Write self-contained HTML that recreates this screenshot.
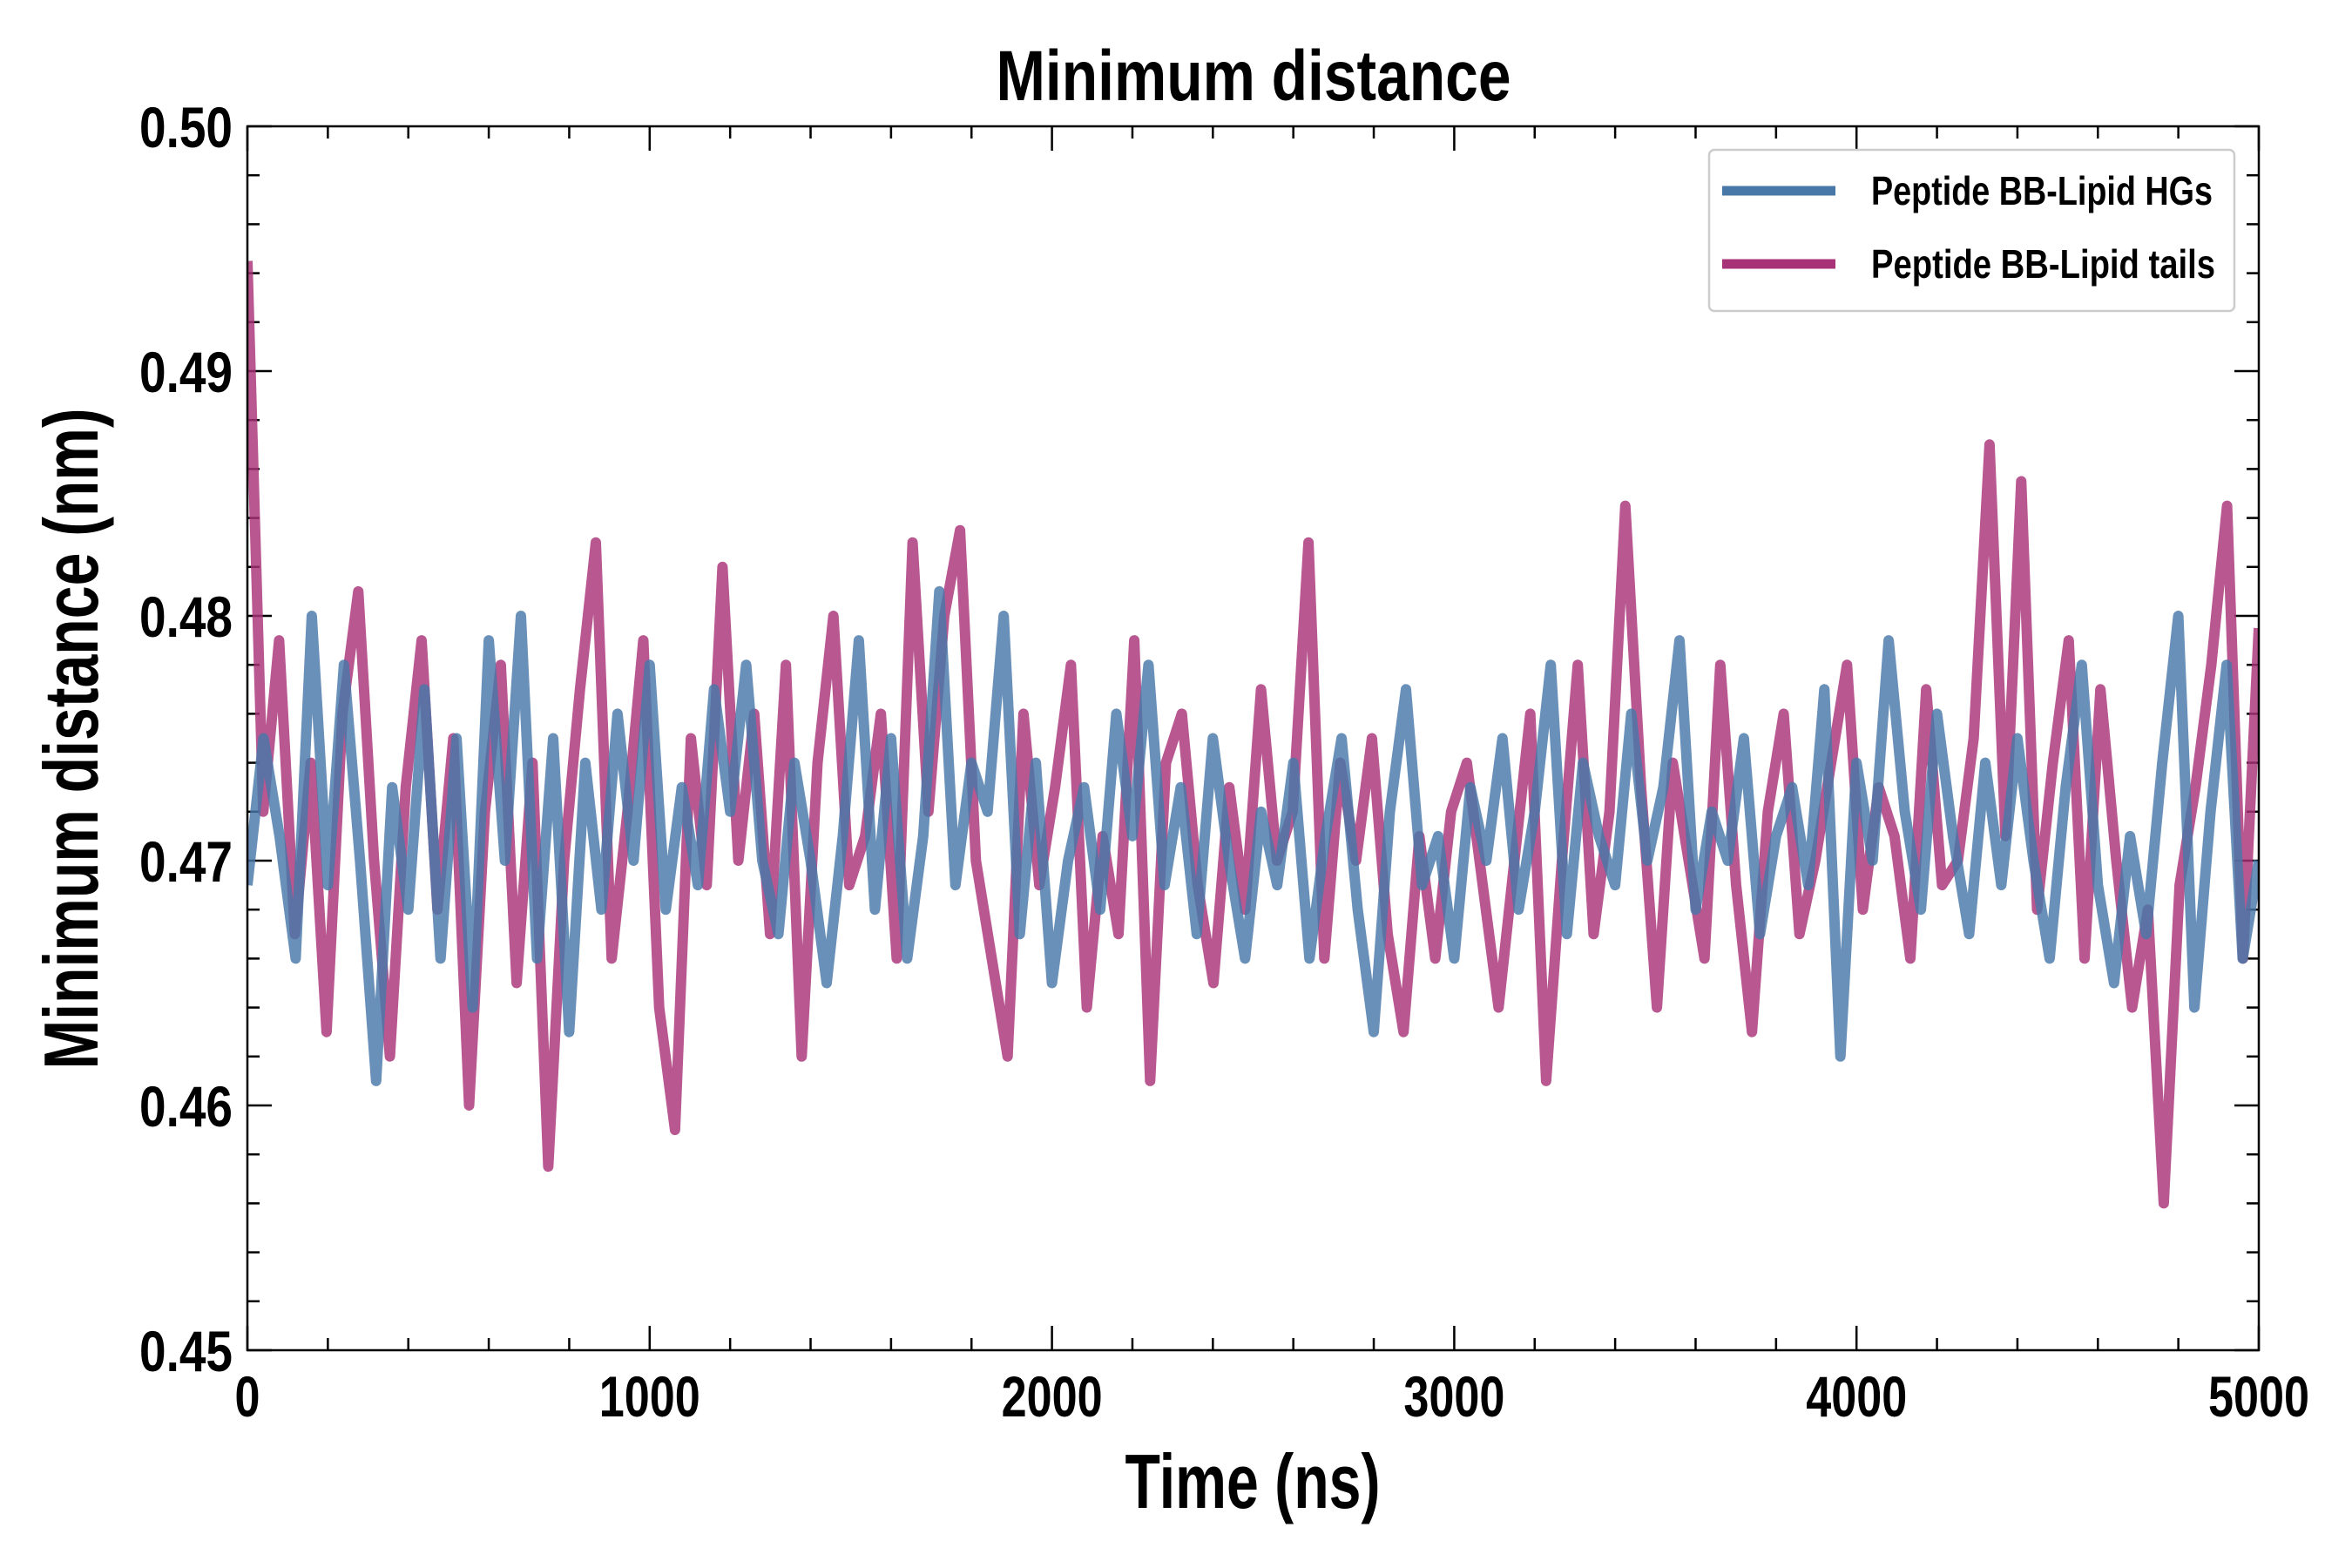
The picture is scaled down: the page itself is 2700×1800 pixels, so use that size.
<!DOCTYPE html>
<html><head><meta charset="utf-8"><style>
html,body{margin:0;padding:0;background:#fff;}
svg{display:block;font-family:"Liberation Sans Narrow","Liberation Sans",sans-serif;font-weight:bold;}
</style></head><body>
<svg id="chart" width="2700" height="1800" viewBox="0 0 2700 1800" xmlns="http://www.w3.org/2000/svg">
<rect width="2700" height="1800" fill="#fff"/>
<text x="1439" y="115" text-anchor="middle" font-size="82" textLength="591" lengthAdjust="spacingAndGlyphs" fill="#000">Minimum distance</text>
<g id="ticks"></g>
<defs><clipPath id="clip"><rect x="284" y="145" width="2309" height="1405"/></clipPath></defs>
<g id="series" clip-path="url(#clip)"></g>
<rect x="284" y="145" width="2309" height="1405" fill="none" stroke="#000" stroke-width="2.5"/>
<text x="1438" y="1731" text-anchor="middle" font-size="88" textLength="293" lengthAdjust="spacingAndGlyphs" fill="#000">Time (ns)</text>
<text transform="translate(112,848) rotate(-90)" text-anchor="middle" font-size="88" textLength="759" lengthAdjust="spacingAndGlyphs" fill="#000">Minimum distance (nm)</text>
<g>
<rect x="1962" y="172" width="603" height="185" rx="6" fill="#fff" stroke="#ccc" stroke-width="2.5"/>
<line x1="1977" y1="219" x2="2107" y2="219" stroke="#4878a8" stroke-width="11"/>
<text x="2148" y="235" font-size="46" textLength="392" lengthAdjust="spacingAndGlyphs" fill="#000">Peptide BB-Lipid HGs</text>
<line x1="1977" y1="303" x2="2107" y2="303" stroke="#a83278" stroke-width="11"/>
<text x="2148" y="319" font-size="46" textLength="395" lengthAdjust="spacingAndGlyphs" fill="#000">Peptide BB-Lipid tails</text>
</g>
</svg>
<script>
const xTicks=[0,1000,2000,3000,4000,5000];
const yTicks=[0.45,0.46,0.47,0.48,0.49,0.50];
const yTickLabels=["0.45","0.46","0.47","0.48","0.49","0.50"];
const tailsValues=[.4945,.472,.479,.467,.474,.463,.476,.481,.470,.462,.473,.479,.468,.475,.460,.472,.478,.465,.474,.4575,.470,.477,.483,.466,.472,.479,.464,.459,.475,.469,.482,.470,.476,.467,.478,.462,.474,.480,.469,.471,.476,.466,.483,.472,.480,.4835,.470,.466,.462,.476,.469,.473,.478,.464,.471,.467,.479,.461,.474,.476,.469,.465,.473,.468,.477,.470,.472,.483,.466,.474,.470,.475,.467,.463,.471,.466,.472,.474,.469,.464,.470,.476,.461,.470,.478,.467,.472,.4845,.473,.464,.474,.470,.466,.478,.469,.463,.472,.476,.467,.470,.474,.478,.468,.473,.471,.466,.477,.469,.470,.475,.4870,.471,.4855,.468,.474,.479,.466,.477,.470,.464,.468,.456,.469,.473,.478,.4845,.466,.4795];
const hgsValues=[.469,.475,.471,.466,.480,.469,.478,.470,.461,.473,.468,.477,.466,.475,.464,.479,.470,.480,.466,.475,.463,.474,.468,.476,.470,.478,.468,.473,.469,.477,.472,.478,.470,.467,.474,.470,.465,.471,.479,.468,.475,.466,.471,.481,.469,.474,.472,.480,.467,.474,.465,.470,.473,.468,.476,.471,.478,.469,.473,.467,.475,.470,.466,.472,.469,.474,.466,.471,.475,.468,.463,.472,.477,.469,.471,.466,.473,.470,.475,.468,.472,.478,.467,.474,.471,.469,.476,.470,.473,.479,.468,.472,.470,.475,.467,.471,.473,.469,.477,.462,.474,.470,.479,.472,.468,.476,.471,.467,.474,.469,.475,.470,.466,.473,.478,.469,.465,.471,.467,.474,.480,.464,.472,.478,.466,.470];
const L=284,R=2593,T=145,B=1550;
const xS=v=>L+(v-0)/(5000-0)*(R-L);
const yS=v=>B-(v-0.45)/(0.50-0.45)*(B-T);
const NS="http://www.w3.org/2000/svg";
const tg=document.getElementById('ticks');
function ln(x1,y1,x2,y2){const l=document.createElementNS(NS,'line');l.setAttribute('x1',x1);l.setAttribute('y1',y1);l.setAttribute('x2',x2);l.setAttribute('y2',y2);l.setAttribute('stroke','#000');l.setAttribute('stroke-width','2.5');tg.appendChild(l);return l;}
for(let v=0;v<=5000;v+=200){const x=xS(v);const major=v%1000===0;const len=major?28:14;ln(x,B,x,B-len);ln(x,T,x,T+len);}
for(let i=0;i<=25;i++){const v=0.45+i*0.002;const y=yS(v);const major=i%5===0;const len=major?28:14;ln(L,y,L+len,y);ln(R,y,R-len,y);}
xTicks.forEach(v=>{const t=document.createElementNS(NS,'text');


const s=String(v);
t.setAttribute('x',xS(v));t.setAttribute('y',B+76);t.setAttribute('text-anchor','middle');t.setAttribute('font-size','66');
t.setAttribute('textLength',s.length*29);t.setAttribute('lengthAdjust','spacingAndGlyphs');
t.textContent=s;tg.appendChild(t);});
yTicks.forEach((v,i)=>{const t=document.createElementNS(NS,'text');


t.setAttribute('x',L-17);t.setAttribute('y',yS(v)+24);t.setAttribute('text-anchor','end');t.setAttribute('font-size','66');
t.setAttribute('textLength','107');t.setAttribute('lengthAdjust','spacingAndGlyphs');
t.textContent=yTickLabels[i];tg.appendChild(t);});
const sg=document.getElementById('series');
function draw(vals,color,name){const step=5000/(vals.length-1);const d=vals.map((v,i)=>(i?'L':'M')+xS(i*step).toFixed(1)+','+yS(v).toFixed(1)).join('');
const p=document.createElementNS(NS,'path');


p.setAttribute('d',d);p.setAttribute('fill','none');p.setAttribute('stroke',color);p.setAttribute('stroke-width','12');p.setAttribute('stroke-linejoin','round');p.setAttribute('stroke-opacity','0.82');sg.appendChild(p);}
draw(tailsValues,'#a83278','series-lipid-tails');
draw(hgsValues,'#4878a8','series-lipid-hgs');
</script>
</body></html>
